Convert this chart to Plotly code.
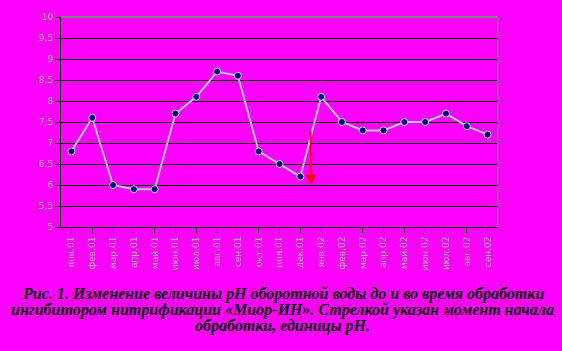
import plotly.graph_objects as go

months = ["янв.01", "фев.01", "мар.01", "апр.01", "май.01", "июн.01", "июл.01",
          "авг.01", "сен.01", "окт.01", "ноя.01", "дек.01", "янв.02", "фев.02",
          "мар.02", "апр.02", "май.02", "июн.02", "июл.02", "авг.02", "сен.02"]
ph = [6.8, 7.6, 6.0, 5.9, 5.9, 7.7, 8.1, 8.7, 8.6, 6.8, 6.5, 6.2,
      8.1, 7.5, 7.3, 7.3, 7.5, 7.5, 7.7, 7.4, 7.2]
y_ticks = [5, 5.5, 6, 6.5, 7, 7.5, 8, 8.5, 9, 9.5, 10]
y_labels = ["5", "5,5", "6", "6,5", "7", "7,5", "8", "8,5", "9", "9,5", "10"]
arrow_x = 11.5
arrow_from = 7.3
arrow_to = 6.0

caption_lines = [
    "Рис. 1. Изменение величины pH оборотной воды до и во время обработки",
    "ингибитором нитрификации «Миор-ИН». Стрелкой указан момент начала",
    "обработки, единицы pH.",
]

fig = go.Figure()
fig.add_trace(go.Scatter(
    x=list(range(len(months))), y=ph, mode="lines+markers",
    line=dict(color="#b8c8f0", width=2),
    marker=dict(color="#000080", size=7, line=dict(color="#c8d8ff", width=1)),
    showlegend=False, hoverinfo="skip"))

fig.add_annotation(x=arrow_x, y=arrow_to, ax=arrow_x, ay=arrow_from,
                   xref="x", yref="y", axref="x", ayref="y",
                   showarrow=True, arrowhead=2, arrowsize=1.4, arrowwidth=1.5,
                   arrowcolor="#ff0000", text="")

plot_top, plot_h = 12, 215
for i, line in enumerate(caption_lines):
    ypix = 296 + 16 * i
    fig.add_annotation(text="<b><i>" + line + "</i></b>", xref="paper", yref="paper",
                       x=0.507, y=(plot_top + plot_h - ypix) / plot_h,
                       xanchor="center", yanchor="middle",
                       showarrow=False, align="center",
                       font=dict(family="Liberation Serif", size=16, color="#000000"))

# gray top and right frame
fig.add_shape(type="line", xref="paper", yref="paper", x0=0, x1=1, y0=1, y1=1,
              line=dict(color="#808080", width=2))
fig.add_shape(type="line", xref="paper", yref="paper", x0=1, x1=1, y0=0, y1=1,
              line=dict(color="#808080", width=1))

fig.update_layout(
    width=562, height=351,
    margin=dict(l=61, r=64, t=12, b=124),
    paper_bgcolor="#ff00ff", plot_bgcolor="#ff00ff",
    font=dict(family="DejaVu Sans", size=9, color="#b0b0b0"),
    xaxis=dict(tickmode="array", tickvals=list(range(len(months))), ticktext=months,
               range=[-0.5, len(months) - 0.5], tickangle=-90,
               ticks="outside", ticklen=5, tickcolor="#000000", tickson="boundaries",
               showline=True, linecolor="#000000", linewidth=1,
               showgrid=False, zeroline=False,
               tickfont=dict(size=9, color="#b0b0b0")),
    yaxis=dict(range=[5, 10], tickmode="array", tickvals=y_ticks, ticktext=y_labels,
               ticks="outside", ticklen=5, tickcolor="#000000",
               showline=True, linecolor="#000000", linewidth=1,
               showgrid=True, gridcolor="#000000", gridwidth=1, zeroline=False,
               tickfont=dict(size=9, color="#b0b0b0")),
)

fig.write_html("out.html")
